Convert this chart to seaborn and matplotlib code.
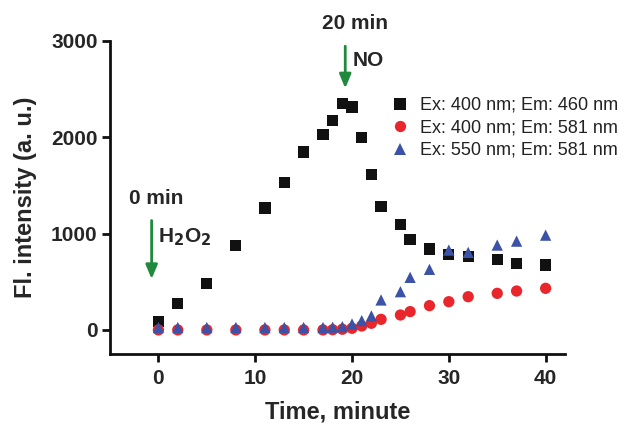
import matplotlib
matplotlib.use("Agg")
import matplotlib.pyplot as plt
import seaborn as sns
import pandas as pd

# ---- data ----
time_min = [0, 2, 5, 8, 11, 13, 15, 17, 18, 19, 20, 21, 22, 23, 25, 26, 28, 30, 32, 35, 37, 40]
ex400_em460 = [86, 277, 484, 874, 1267, 1534, 1848, 2028, 2176, 2349, 2314, 1997, 1613, 1285,
               1098, 940, 839, 784, 760, 733, 691, 674]
ex400_em581 = [0, 0, 0, 0, 0, 0, 0, 0, 2, 7, 17, 41, 69, 110,
               155, 190, 252, 293, 345, 380, 404, 432]
ex550_em581 = [25, 25, 25, 25, 25, 25, 25, 25, 28, 34, 62, 97, 145, 311,
               397, 546, 629, 829, 805, 881, 922, 984]
series_labels = ["Ex: 400 nm; Em: 460 nm", "Ex: 400 nm; Em: 581 nm", "Ex: 550 nm; Em: 581 nm"]
x_ticks = [0, 10, 20, 30, 40]
y_ticks = [0, 1000, 2000, 3000]

df = pd.concat([
    pd.DataFrame({"Time": time_min, "Intensity": vals, "Series": lab})
    for vals, lab in zip([ex400_em460, ex400_em581, ex550_em581], series_labels)
], ignore_index=True)

sns.set_theme(style="ticks")
plt.rcParams["font.family"] = ["Liberation Sans", "DejaVu Sans"]

fig = plt.figure(figsize=(6.29, 4.23), dpi=100)
ax = fig.add_axes([110 / 629, 1 - 354 / 423, (565 - 110) / 629, (354 - 41) / 423])

palette = {series_labels[0]: "#111111", series_labels[1]: "#e8262b", series_labels[2]: "#3b52a6"}
markers = {series_labels[0]: "s", series_labels[1]: "o", series_labels[2]: "^"}

sns.scatterplot(data=df, x="Time", y="Intensity", hue="Series", style="Series",
                palette=palette, markers=markers, s=66, linewidth=0, ax=ax, clip_on=False)

ax.set_xlim(-5, 42)
ax.set_ylim(-250, 3000)
ax.set_xticks(x_ticks)
ax.set_yticks(y_ticks)
for s in ["top", "right"]:
    ax.spines[s].set_visible(False)
for s in ["left", "bottom"]:
    ax.spines[s].set_linewidth(2)
    ax.spines[s].set_color("#111111")
ax.tick_params(axis="both", direction="out", length=6, width=2, color="#111111",
               labelsize=15, pad=3)
ax.tick_params(axis="x", pad=5)
for lab in ax.get_xticklabels() + ax.get_yticklabels():
    lab.set_fontweight("bold")

ax.set_xlabel("Time, minute", fontsize=17, fontweight="bold", labelpad=9)
ax.set_ylabel("Fl. intensity (a. u.)", fontsize=17, fontweight="bold", labelpad=10)

green = "#1f8a3e"
# annotations
ax.text(20.3, 3180, "20 min", ha="center", va="center", fontsize=15, fontweight="bold", clip_on=False)
ax.annotate("", xy=(19.3, 2480), xytext=(19.3, 2975),
            arrowprops=dict(arrowstyle="-|>,head_length=0.6,head_width=0.25", color=green, lw=2,
                            mutation_scale=14), annotation_clip=False)
ax.text(20.1, 2800, "NO", ha="left", va="center", fontsize=15, fontweight="bold")

ax.text(-0.25, 1368, "0 min", ha="center", va="center", fontsize=15, fontweight="bold")
ax.annotate("", xy=(-0.7, 500), xytext=(-0.7, 1165),
            arrowprops=dict(arrowstyle="-|>,head_length=0.6,head_width=0.25", color=green, lw=2,
                            mutation_scale=14))
ax.text(0.0, 960, r"H$_\mathbf{2}$O$_\mathbf{2}$", ha="left", va="center", fontsize=15, fontweight="bold")

sns.move_legend(ax, loc="upper left", bbox_to_anchor=(391 / 629, 1 - 97 / 423),
                bbox_transform=fig.transFigure, frameon=False, title=None,
                fontsize=13, handlelength=1.0, handletextpad=0.6, labelspacing=0.3,
                borderpad=0, borderaxespad=0)
for t in ax.get_legend().get_texts():
    t.set_color("#222222")

fig.savefig("out.png", dpi=100)
